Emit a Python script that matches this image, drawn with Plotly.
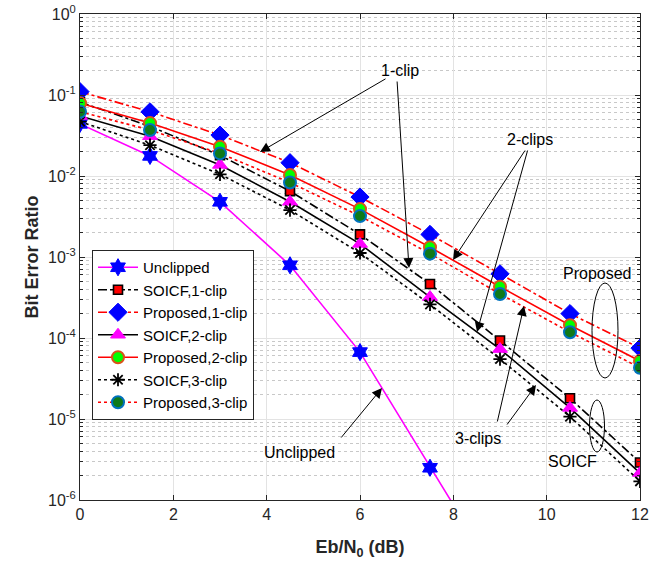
import plotly.graph_objects as go

# ---------------- data ----------------
ebn0 = [0, 1.5, 3, 4.5, 6, 7.5, 9, 10.5, 12]
ebn0_unclipped = [0, 1.5, 3, 4.5, 6, 7.5, 9]
ber_unclipped = [0.044, 0.0177, 0.0048, 7.9e-4, 6.7e-5, 2.5e-6, 1.0e-7]
ber_soicf_1 = [0.082, 0.041, 0.018, 6.5e-3, 1.9e-3, 4.65e-4, 9.3e-5, 1.8e-5, 2.9e-6]
ber_prop_1 = [0.11, 0.062, 0.032, 0.0146, 5.5e-3, 1.9e-3, 6.2e-4, 2.0e-4, 7.5e-5]
ber_soicf_2 = [0.055, 0.031, 0.0137, 4.8e-3, 1.45e-3, 3.2e-4, 7.3e-5, 1.37e-5, 2.15e-6]
ber_prop_2 = [0.079, 0.045, 0.023, 0.0103, 3.9e-3, 1.32e-3, 4.3e-4, 1.44e-4, 5.2e-5]
ber_soicf_3 = [0.047, 0.024, 0.0105, 3.8e-3, 1.12e-3, 2.6e-4, 5.5e-5, 1.07e-5, 1.7e-6]
ber_prop_3 = [0.062, 0.037, 0.019, 0.0083, 3.2e-3, 1.1e-3, 3.5e-4, 1.18e-4, 4.3e-5]

x_ticks = [0, 2, 4, 6, 8, 10, 12]
y_tickvals = [1, 1e-1, 1e-2, 1e-3, 1e-4, 1e-5, 1e-6]
y_ticktext = ["10<sup>0</sup>", "10<sup>-1</sup>", "10<sup>-2</sup>", "10<sup>-3</sup>",
              "10<sup>-4</sup>", "10<sup>-5</sup>", "10<sup>-6</sup>"]

# ---------------- figure ----------------
W, H = 662, 564
L, R, T, B = 80, 22, 14, 64
PW, PH = W - L - R, H - T - B


def px(x):
    return (x - L) / PW


def py(y):
    return (H - B - y) / PH


FONT = "Liberation Sans, Arial, sans-serif"
fig = go.Figure()

fig.add_trace(go.Scatter(
    x=ebn0_unclipped, y=ber_unclipped, name="Unclipped", mode="lines+markers",
    line=dict(color="#FF00FF", width=1.6),
    marker=dict(symbol="hexagram", size=13, color="#0000FF", line=dict(color="#0000FF", width=1))))
fig.add_trace(go.Scatter(
    x=ebn0, y=ber_soicf_1, name="SOICF,1-clip", mode="lines+markers",
    line=dict(color="black", width=1.6, dash="dashdot"),
    marker=dict(symbol="square", size=9, color="#FF0000", line=dict(color="black", width=1.6))))
fig.add_trace(go.Scatter(
    x=ebn0, y=ber_prop_1, name="Proposed,1-clip", mode="lines+markers",
    line=dict(color="#FF0000", width=1.6, dash="dashdot"),
    marker=dict(symbol="diamond", size=14, color="#0000FF", line=dict(color="#0000FF", width=1))))
fig.add_trace(go.Scatter(
    x=ebn0, y=ber_soicf_2, name="SOICF,2-clip", mode="lines+markers",
    line=dict(color="black", width=1.6),
    marker=dict(symbol="triangle-up", size=13, color="#FF00FF", line=dict(color="#FF00FF", width=1))))
fig.add_trace(go.Scatter(
    x=ebn0, y=ber_prop_2, name="Proposed,2-clip", mode="lines+markers",
    line=dict(color="#FF0000", width=1.6),
    marker=dict(symbol="circle", size=12, color="#00FF00", line=dict(color="#D95319", width=2))))
fig.add_trace(go.Scatter(
    x=ebn0, y=ber_soicf_3, name="SOICF,3-clip", mode="lines+markers",
    line=dict(color="black", width=1.6, dash="dot"),
    marker=dict(symbol="asterisk-open", size=11, color="black", line=dict(color="black", width=1.8))))
fig.add_trace(go.Scatter(
    x=ebn0, y=ber_prop_3, name="Proposed,3-clip", mode="lines+markers",
    line=dict(color="#FF0000", width=1.6, dash="dot"),
    marker=dict(symbol="circle", size=12, color="#0F7A1A", line=dict(color="#0072BD", width=2))))

# ---------------- annotations ----------------
annotations = []


def label(text, x, y):
    annotations.append(dict(text=text, x=px(x), y=py(y), xref="paper", yref="paper",
                            showarrow=False, font=dict(family=FONT, size=16, color="black"),
                            xanchor="center", yanchor="middle"))


def arrow(head, tail):
    annotations.append(dict(text="", x=px(head[0]), y=py(head[1]), xref="paper", yref="paper",
                            ax=tail[0] - head[0], ay=tail[1] - head[1], axref="pixel", ayref="pixel",
                            showarrow=True, arrowhead=2, arrowsize=2, arrowwidth=1,
                            arrowcolor="black", standoff=0))


label("1-clip", 400, 70)
arrow((260, 152), (387, 78))
arrow((409, 268), (397, 80))
label("2-clips", 530, 139)
arrow((453, 260), (526, 149))
arrow((477, 332), (528, 149))
label("3-clips", 478, 438)
arrow((524, 306), (497, 423))
arrow((536, 385), (506, 426))
label("Unclipped", 299, 452)
arrow((382, 388), (340, 439))
label("Proposed", 597, 273)
label("SOICF", 572, 461)

shapes = [
    dict(type="circle", xref="paper", yref="paper", x0=px(592), x1=px(618), y0=py(378), y1=py(283),
         line=dict(color="black", width=1)),
    dict(type="circle", xref="paper", yref="paper", x0=px(589.5), x1=px(604.5), y0=py(452), y1=py(400),
         line=dict(color="black", width=1)),
]

axis_common = dict(showline=True, linecolor="#262626", linewidth=1, mirror="allticks",
                   ticks="inside", tickcolor="#262626", ticklen=5, automargin=False,
                   showgrid=True, gridcolor="#E3E3E3", gridwidth=1, zeroline=False,
                   tickfont=dict(family=FONT, size=16, color="#262626"))

fig.update_layout(
    width=W, height=H,
    margin=dict(l=L, r=R, t=T, b=B, autoexpand=False),
    paper_bgcolor="white", plot_bgcolor="white",
    font=dict(family=FONT, color="#262626"),
    showlegend=True,
    legend=dict(x=px(92), y=py(250), xanchor="left", yanchor="top",
                bgcolor="white", bordercolor="#262626", borderwidth=1,
                font=dict(family=FONT, size=15, color="black"),
                itemwidth=40, tracegroupgap=0),
    annotations=annotations,
    shapes=shapes,
    xaxis=dict(range=[0, 12], tickvals=x_ticks, **axis_common,
               title=dict(text="<b>Eb/N<sub>0</sub> (dB)</b>", font=dict(family=FONT, size=18, color="#262626"),
                          standoff=18)),
    yaxis=dict(type="log", range=[-6, 0], tickvals=y_tickvals, ticktext=y_ticktext, **axis_common,
               minor=dict(ticks="inside", ticklen=3, tickcolor="#262626", showgrid=True,
                          gridcolor="#C8C8C8", griddash="dot", gridwidth=1, dtick="D1"),
               title=dict(text="<b>Bit Error Ratio</b>", font=dict(family=FONT, size=18, color="#262626"),
                          standoff=4)),
)

fig.write_html("out.html", config={"displayModeBar": False})

# remove the browser's default page margin so the figure sits at the window origin
with open("out.html", "r", encoding="utf-8") as f:
    page = f.read()
page = page.replace("<head>", "<head><style>html,body{margin:0;padding:0;overflow:hidden;}</style>", 1)
with open("out.html", "w", encoding="utf-8") as f:
    f.write(page)
